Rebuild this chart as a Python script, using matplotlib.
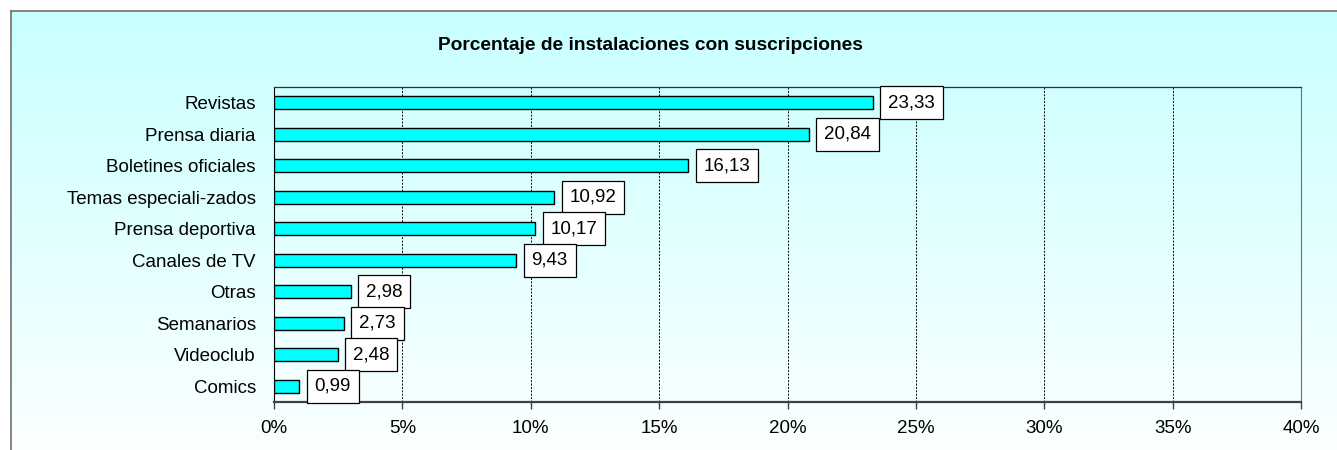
import numpy as np
import matplotlib
matplotlib.use("Agg")
import matplotlib.pyplot as plt
from matplotlib.ticker import FuncFormatter
from matplotlib.colors import LinearSegmentedColormap

plt.rcParams['font.family'] = ['Liberation Sans', 'DejaVu Sans']

categories = ["Revistas", "Prensa diaria", "Boletines oficiales", "Temas especiali-zados",
              "Prensa deportiva", "Canales de TV", "Otras", "Semanarios", "Videoclub", "Comics"]
values = [23.33, 20.84, 16.13, 10.92, 10.17, 9.43, 2.98, 2.73, 2.48, 0.99]
title = "Porcentaje de instalaciones con suscripciones"

W, H = 1337, 450
FS = 13.5
fig = plt.figure(figsize=(W / 100, H / 100), dpi=100)
fig.patch.set_facecolor("white")

# fondo con degradado (cian claro arriba, blanco abajo)
bg = fig.add_axes([11 / W, 0, 1 - 11 / W, 1 - 11 / H])
grad = np.linspace(0, 1, 256).reshape(-1, 1)
cmap = LinearSegmentedColormap.from_list("bg", ["#c8ffff", "#ffffff"])
bg.imshow(grad, aspect="auto", cmap=cmap, extent=[0, 1, -0.08, 1])
bg.set_xlim(0, 1)
bg.set_ylim(0, 1)
bg.set_xticks([])
bg.set_yticks([])
for side in ["right", "bottom"]:
    bg.spines[side].set_visible(False)
for side in ["left", "top"]:
    bg.spines[side].set_color("#707070")
    bg.spines[side].set_linewidth(1.2)
bg.set_zorder(0)

ax = fig.add_axes([274 / W, 1 - 402 / H, (1301 - 274) / W, (402 - 87) / H])
ax.set_zorder(1)
ax.patch.set_alpha(0)

y = np.arange(len(categories))
ax.barh(y, values, height=0.4, color="#00ffff", edgecolor="black", linewidth=1.0, zorder=3)
ax.set_yticks(y)
ax.set_yticklabels(categories, fontsize=FS)
ax.set_ylim(len(categories) - 0.5, -0.5)
ax.set_xlim(0, 40)
ax.set_xticks(np.arange(0, 41, 5))
ax.xaxis.set_major_formatter(FuncFormatter(lambda v, p: f"{int(v)}%"))
ax.tick_params(axis="x", labelsize=FS, length=5, width=1, color="#404040", pad=8)
ax.tick_params(axis="y", length=0, pad=13)
ax.grid(axis="x", color="black", linestyle=(0, (2, 1.5)), linewidth=0.7, zorder=1)

ax.spines["left"].set_color("black")
ax.spines["top"].set_color("#303030")
ax.spines["top"].set_linewidth(0.9)
ax.spines["right"].set_color("#707070")
ax.spines["bottom"].set_color("#404040")
ax.spines["bottom"].set_linewidth(1.6)

for yi, v in zip(y, values):
    ax.annotate(f"{v:.2f}".replace(".", ","), (v, yi), xytext=(11, 0), textcoords="offset points",
                ha="left", va="center", fontsize=FS, zorder=4,
                bbox=dict(boxstyle="square,pad=0.42", facecolor="white", edgecolor="black", linewidth=0.9))

fig.text(650 / W, 1 - 45 / H, title, ha="center", va="center", fontsize=13.8, fontweight="bold")

fig.savefig("out.png", dpi=100)
